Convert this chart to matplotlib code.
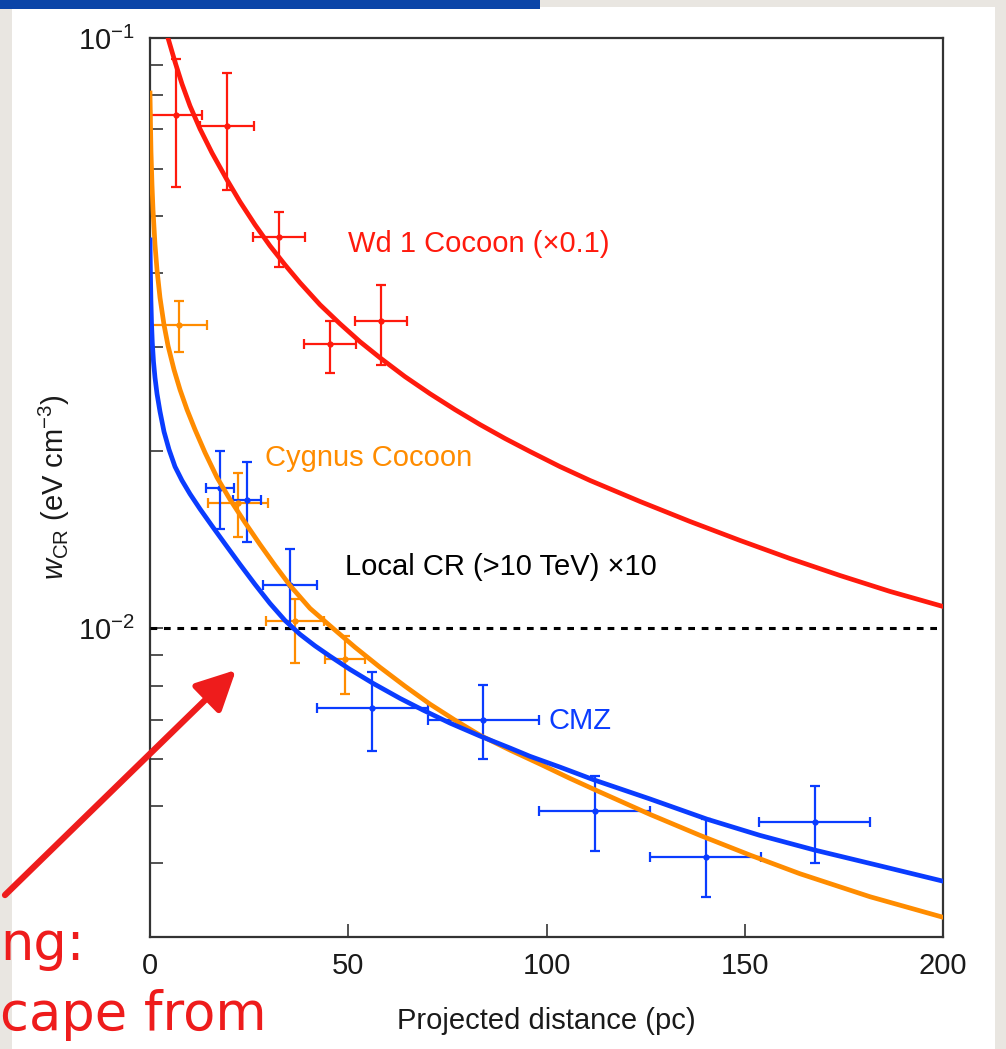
import numpy as np
import matplotlib
matplotlib.use("Agg")
import matplotlib.pyplot as plt
from matplotlib.patches import Rectangle, FancyArrowPatch
from matplotlib.ticker import NullFormatter, LogLocator

plt.rcParams['font.family'] = ['Liberation Sans', 'DejaVu Sans']
plt.rcParams['mathtext.fontset'] = 'custom'
plt.rcParams['mathtext.rm'] = 'Liberation Sans'
plt.rcParams['mathtext.it'] = 'Liberation Sans:italic'

RED = '#ff1a0d'
ORANGE = '#ff8c00'
BLUE = '#0a3cff'
PEN = '#ee1c1c'

# Wd 1 cocoon (x0.1)
wd1_x = [6.6, 19.4, 32.5, 45.4, 58.3]
wd1_xerr = [6.4, 6.8, 6.6, 6.6, 6.6]
wd1_y = [0.0741, 0.0710, 0.0460, 0.0303, 0.0332]
wd1_ylo = [0.0181, 0.0157, 0.0050, 0.0032, 0.0053]
wd1_yhi = [0.0180, 0.0163, 0.0048, 0.0028, 0.0050]

# Cygnus cocoon
cyg_x = [7.3, 22.2, 36.6, 49.2]
cyg_xerr = [7.0, 7.5, 7.3, 5.0]
cyg_y = [0.0326, 0.01633, 0.01028, 0.00887]
cyg_ylo = [0.0032, 0.00207, 0.00153, 0.00114]
cyg_yhi = [0.0033, 0.00203, 0.00092, 0.00082]

# CMZ
cmz_x = [17.7, 24.5, 35.3, 56.0, 84.0, 112.2, 140.2, 167.7]
cmz_xerr = [3.5, 3.6, 6.9, 14.0, 14.0, 14.0, 14.0, 14.0]
cmz_y = [0.01726, 0.01652, 0.01186, 0.00732, 0.00699, 0.00490, 0.00410, 0.00470]
cmz_ylo = [0.00253, 0.00249, 0.00190, 0.00113, 0.00099, 0.00070, 0.00060, 0.00070]
cmz_yhi = [0.00269, 0.00258, 0.00175, 0.00110, 0.00102, 0.00072, 0.00066, 0.00070]

# model curves
wd1_cx = [4.54, 6.31, 8.07, 10.09, 12.61, 15.64, 19.42, 22.70, 26.48, 30.26, 34.05,
          37.83, 42.88, 47.92, 52.96, 58.01, 64.31, 70.62, 76.92, 83.23, 89.53,
          95.84, 103.4, 111.0, 123.6, 136.2, 148.8, 161.4, 174.0, 186.6, 200.0]
wd1_cy = [0.1, 0.09108, 0.08359, 0.07673, 0.07015, 0.06387, 0.05751, 0.05279,
          0.04827, 0.04446, 0.04128, 0.03850, 0.03533, 0.03280, 0.03059, 0.02873,
          0.02669, 0.02497, 0.02347, 0.02214, 0.02097, 0.01993, 0.01879, 0.01780,
          0.01640, 0.01517, 0.01409, 0.01313, 0.01229, 0.01155, 0.01089]

cyg_cx = [0.0, 0.126, 0.252, 0.504, 0.757, 1.261, 1.766, 2.522, 3.531, 4.540, 6.053,
          7.566, 9.332, 11.35, 13.87, 16.90, 20.18, 23.96, 27.74, 31.53, 35.31,
          40.35, 46.15, 51.70, 58.01, 64.31, 70.62, 76.92, 83.23, 90.79, 98.36,
          105.9, 113.5, 126.1, 138.7, 151.3, 163.9, 181.6, 200.0]
cyg_cy = [0.08070, 0.07126, 0.06413, 0.05640, 0.05117, 0.04465, 0.04050, 0.03631,
          0.03268, 0.03012, 0.02743, 0.02537, 0.02347, 0.02171, 0.01985, 0.01801,
          0.01653, 0.01511, 0.01387, 0.01278, 0.01182, 0.01081, 0.01000, 0.00929,
          0.00859, 0.00798, 0.00744, 0.00699, 0.00659, 0.00622, 0.00589, 0.00557,
          0.00528, 0.00484, 0.00446, 0.00413, 0.00384, 0.00351, 0.00324]

cmz_cx = [0.0, 0.101, 0.227, 0.378, 0.580, 0.883, 1.261, 1.766, 2.522, 3.531, 4.792,
          6.305, 8.071, 10.09, 12.61, 15.64, 18.92, 22.70, 26.48, 30.26, 34.05,
          37.83, 41.61, 45.40, 50.44, 56.24, 63.05, 68.85, 75.66, 83.23, 90.79,
          95.84, 103.4, 112.2, 126.1, 140.5, 153.8, 167.7, 184.1, 200.0]
cmz_cy = [0.04550, 0.04050, 0.03602, 0.03294, 0.03048, 0.02829, 0.02659, 0.02497,
          0.02329, 0.02154, 0.02009, 0.01879, 0.01780, 0.01689, 0.01593, 0.01491,
          0.01390, 0.01283, 0.01187, 0.01102, 0.01031, 0.00977, 0.00934, 0.00897,
          0.00852, 0.00807, 0.00761, 0.00727, 0.00691, 0.00657, 0.00627, 0.00607,
          0.00582, 0.00553, 0.00514, 0.00475, 0.00446, 0.00421, 0.00396, 0.00373]

local_cr = 0.01

W, H = 1006, 1049
fig = plt.figure(figsize=(W / 100, H / 100), dpi=100)
fig.patch.set_facecolor('#e9e6e1')

# slide paper + cropped title strip
fig.add_artist(Rectangle((12 / W, 0), (995 - 12) / W, (H - 7) / H,
                         transform=fig.transFigure, facecolor='white', edgecolor='none', zorder=0))
fig.add_artist(Rectangle((0, (H - 9) / H), 540 / W, 9 / H,
                         transform=fig.transFigure, facecolor='#0b45a8', edgecolor='none', zorder=0))

ax = fig.add_axes([150 / W, 1 - 937 / H, (943 - 150) / W, (937 - 38) / H])
ax.set_yscale('log')
ax.set_xlim(0, 200)
ax.set_ylim(3.0e-3, 0.1)

ebkw = dict(fmt='o', ms=3.5, elinewidth=1.6, capsize=3.5, capthick=1.6)
ax.errorbar(wd1_x, wd1_y, xerr=wd1_xerr, yerr=[wd1_ylo, wd1_yhi], color=RED, **ebkw)
ax.errorbar(cyg_x, cyg_y, xerr=cyg_xerr, yerr=[cyg_ylo, cyg_yhi], color=ORANGE, **ebkw)
ax.errorbar(cmz_x, cmz_y, xerr=cmz_xerr, yerr=[cmz_ylo, cmz_yhi], color=BLUE, **ebkw)

ax.plot(wd1_cx, wd1_cy, color=RED, lw=3.4, zorder=4, solid_joinstyle='round')
ax.plot(cyg_cx, cyg_cy, color=ORANGE, lw=3.4, zorder=4, solid_joinstyle='round')
ax.plot(cmz_cx, cmz_cy, color=BLUE, lw=3.4, zorder=5, solid_joinstyle='round')
ax.axhline(local_cr, color='black', lw=2.2, ls=(0, (2.2, 2.2)), zorder=3)

fs = 21
ax.text(50, 0.0447, 'Wd 1 Cocoon (×0.1)', color=RED, fontsize=fs, va='center')
ax.text(29, 0.01947, 'Cygnus Cocoon', color=ORANGE, fontsize=fs, va='center')
ax.text(49.2, 0.01268, 'Local CR (>10 TeV) ×10', color='black', fontsize=fs, va='center')
ax.text(100.4, 0.00696, 'CMZ', color=BLUE, fontsize=fs, va='center')

ax.set_xticks([0, 50, 100, 150, 200])
ax.yaxis.set_major_locator(LogLocator(base=10))
ax.yaxis.set_minor_locator(LogLocator(base=10, subs=np.arange(2, 10)))
ax.yaxis.set_minor_formatter(NullFormatter())
ax.tick_params(which='both', direction='in', length=9.5, width=1.3, color='#444444',
               labelsize=fs, labelcolor='#1a1a1a', pad=11, top=False, right=False)
for s in ax.spines.values():
    s.set_color('#333333')
    s.set_linewidth(1.6)

ax.set_xlabel('Projected distance (pc)', fontsize=fs, color='#1a1a1a')
ax.xaxis.set_label_coords(0.5, -0.078)
ax.set_ylabel(r'$w_{\rm CR}$ (eV cm$^{-3}$)', fontsize=fs, color='#1a1a1a')
ax.yaxis.set_label_coords(-0.098, 0.5)

# hand-drawn annotation on the slide
arrow = FancyArrowPatch((3 / W, 1 - 897 / H), (238 / W, 1 - 668 / H),
                        transform=fig.transFigure, arrowstyle='-|>', mutation_scale=60,
                        lw=4.5, color=PEN, zorder=10)
fig.add_artist(arrow)
fig.text(0, 1 - 960 / H, 'ng:', color=PEN, fontsize=38, va='baseline', ha='left',
         family='DejaVu Sans')
fig.text(0, 1 - 1030 / H, 'cape from', color=PEN, fontsize=38, va='baseline', ha='left',
         family='DejaVu Sans')

fig.savefig('out.png', dpi=100, facecolor=fig.get_facecolor())
